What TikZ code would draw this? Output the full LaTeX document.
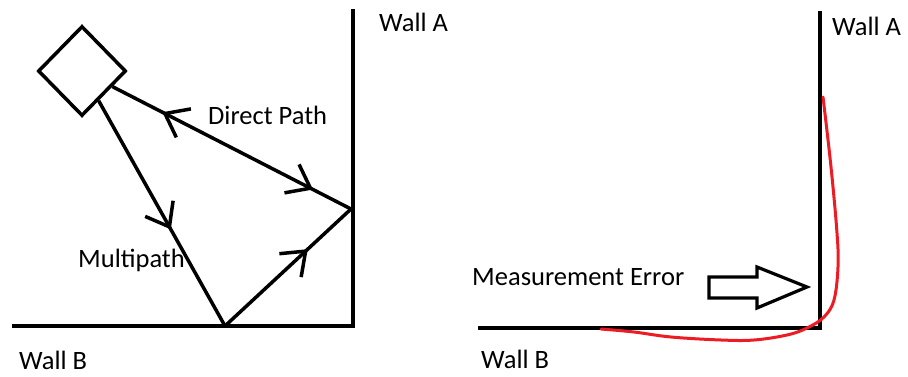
\documentclass[tikz,border=0pt]{standalone}
\usepackage{fontspec}
\setmainfont{Carlito}
\usetikzlibrary{shapes.geometric,decorations.markings}
\definecolor{mred}{RGB}{237,28,36}
\tikzset{
  wall/.style={line width=4pt},
  ray/.style={line width=3.5pt},
  lbl/.style={font=\fontsize{26.5}{30}\selectfont, inner sep=0pt, anchor=base west},
  fwdarrow/.style={postaction={decorate, decoration={markings,
     mark=at position #1 with {\draw[line width=3.5pt] (-21pt,16pt) -- (0pt,0pt) -- (-21pt,-16pt);}}}},
  bwdarrow/.style={postaction={decorate, decoration={markings,
     mark=at position #1 with {\draw[line width=3.5pt] (21pt,16pt) -- (0pt,0pt) -- (21pt,-16pt);}}}}
}
\begin{document}
\begin{tikzpicture}[x=1pt,y=-1pt]
\useasboundingbox (0,0) rectangle (908,376);
% ---------- left panel ----------
\coordinate (lAtop) at (353,9);
\coordinate (lcorner) at (353,326);
\coordinate (lBleft) at (12,326);
\coordinate (pA) at (351,209);
\coordinate (pB) at (225,326);
\draw[wall] (lAtop) -- (lcorner) -- (lBleft);
\node[draw, diamond, line width=3.5pt, minimum width=88pt, minimum height=90pt, inner sep=0pt] (d) at (82,71) {};
\draw[ray, bwdarrow=0.22, fwdarrow=0.83] (d) -- (pA);
\draw[ray, fwdarrow=0.56] (d) -- (pB);
\draw[ray, fwdarrow=0.64] (pB) -- (pA);
\node[lbl] (wallAl) at (379,31) {Wall A};
\node[lbl] (wallBl) at (19,369) {Wall B};
\node[lbl] (direct) at (208,124) {Direct Path};
\node[lbl] (multi) at (78,267) {Multipath};
% ---------- right panel ----------
\coordinate (rAtop) at (820,11);
\coordinate (rcorner) at (820,328);
\coordinate (rBleft) at (478,328);
\draw[wall] (rAtop) -- (rcorner) -- (rBleft);
\draw[mred, line width=3pt, line cap=round] plot[smooth, tension=0.6] coordinates {
 (823,97) (831,167) (837,233) (838,267) (834,300) (824,317) (807,328) (787,335) (754,340) (721,340) (671,337) (634,332) (601,329)};
\draw[line width=3.2pt, line join=miter] (709,277) -- (757,277) -- (757,267) -- (807,287) -- (757,308) -- (757,298) -- (709,298) -- cycle;
\node[lbl] (wallAr) at (832,35) {Wall A};
\node[lbl] (wallBr) at (481,368) {Wall B};
\node[lbl] (meas) at (472,285) {Measurement Error};
\end{tikzpicture}
\end{document}
